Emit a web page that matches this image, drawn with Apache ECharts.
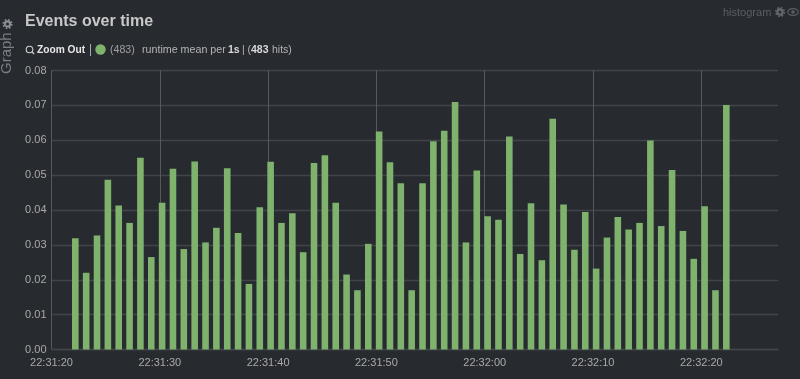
<!DOCTYPE html>
<html><head><meta charset="utf-8">
<style>html,body{margin:0;padding:0;background:#272a2f}#c{width:800px;height:379px}</style>
<script src="https://cdn.jsdelivr.net/npm/echarts@6/dist/echarts.min.js"></script>
</head><body><div id="c"></div>
<script>
var xTickLabels = ['22:31:20','22:31:30','22:31:40','22:31:50','22:32:00','22:32:10','22:32:20'];
var firstBarSeconds = 2.2;
var runtimeMean = [
 .0319,.0220,.0327,.0487,.0413,.0363,.0550,.0265,.0421,.0518,.0288,.0539,.0307,.0349,.0520,.0334,.0188,.0408,.0538,.0363,.0391,.0279,
 .0535,.0557,.0421,.0215,.0170,.0303,.0625,.0537,.0477,.0170,.0477,.0597,.0627,.0710,.0307,.0513,.0382,.0372,.0611,.0274,.0419,.0256,
 .0662,.0416,.0286,.0394,.0232,.0321,.0380,.0344,.0363,.0599,.0354,.0515,.0340,.0260,.0411,.0170,.0701];
var barData = runtimeMean.map(function(v,i){return [firstBarSeconds+i*1.0018,v];});
var FONT='"Liberation Sans",Arial,sans-serif';
var chart=echarts.init(document.getElementById('c'),null,{renderer:'canvas'});
function txt(x,y,t,size,color,weight){
  return {type:'text',x:x,y:y,silent:true,style:{text:t,fontFamily:FONT,fontSize:size,fill:color,fontWeight:weight||'normal',textVerticalAlign:'middle'}};
}
function gear(cx,cy,color){
  return [
   {type:'circle',silent:true,shape:{cx:cx,cy:cy,r:2.6},style:{fill:'none',stroke:color,lineWidth:2.2}},
   {type:'circle',silent:true,shape:{cx:cx,cy:cy,r:4.3},style:{fill:'none',stroke:color,lineWidth:1.6,lineDash:[1.7,1.68]}}
  ];
}
var graph=[
  txt(25,22,'Events over time',16,'#c8c8c8','bold'),
  {type:'text',x:7,y:74,rotation:Math.PI/2,silent:true,style:{text:'Graph',fontFamily:FONT,fontSize:15,fill:'#7c7e82',textVerticalAlign:'middle',textAlign:'left'}},
  {type:'circle',silent:true,shape:{cx:29.5,cy:49.5,r:3.3},style:{fill:'none',stroke:'#d0d0d0',lineWidth:1.1}},
  {type:'line',silent:true,shape:{x1:32,y1:52,x2:34.2,y2:54},style:{stroke:'#d0d0d0',lineWidth:1.3}},
  txt(37,50,'Zoom Out',10.2,'#e6e6e6','bold'),
  {type:'line',silent:true,shape:{x1:90.5,y1:44,x2:90.5,y2:56},style:{stroke:'#aaaaaa',lineWidth:1}},
  {type:'circle',silent:true,shape:{cx:100.5,cy:49.5,r:5.2},style:{fill:'#7eb26d'}},
  txt(110,50,'(483)',10.6,'#a0a0a0'),
  txt(142,50,'runtime mean per',10.7,'#b4b4b4'),
  txt(228,50,'1s',10.5,'#d8d8d8','bold'),
  txt(242,50,'|',10.5,'#b4b4b4'),
  txt(247.5,50,'(',10.5,'#b4b4b4'),
  txt(251,50,'483',10.5,'#d8d8d8','bold'),
  txt(272,50,'hits)',10.5,'#b4b4b4'),
  txt(723,12.5,'histogram',11,'#5c5f63'),
  {type:'ellipse',silent:true,shape:{cx:793,cy:12,rx:5.2,ry:3.4},style:{fill:'none',stroke:'#5c5f63',lineWidth:1.2}},
  {type:'circle',silent:true,shape:{cx:793,cy:12,r:1.8},style:{fill:'#5c5f63'}}
].concat(gear(7.5,24,'#8a8c90'),gear(780,12,'#65686c'));
chart.setOption({
 animation:false,
 backgroundColor:'#272a2f',
 grid:{left:51.5,right:22,top:70.5,bottom:29.5,containLabel:false},
 xAxis:{type:'value',min:0,max:67.08,interval:10,
  axisLine:{show:true,lineStyle:{color:'#414448',width:1.3}},axisTick:{show:false},
  splitLine:{show:true,showMaxLine:false,lineStyle:{color:'#55585c',width:1}},
  axisLabel:{color:'#a9a9a9',fontFamily:FONT,fontSize:11,margin:8,
   showMaxLabel:false,formatter:function(v){var l=xTickLabels[v/10];return l===undefined?'':l;}}},
 yAxis:{type:'value',min:0,max:0.08,interval:0.01,
  axisLine:{show:true,lineStyle:{color:'#55585c',width:1}},axisTick:{show:false},
  splitLine:{show:true,lineStyle:{color:'#414448',width:1.3}},
  axisLabel:{color:'#a9a9a9',fontFamily:FONT,fontSize:11,margin:5,formatter:function(v){return v.toFixed(2);}}},
 series:[{type:'bar',data:barData,barWidth:6.6,itemStyle:{color:'#7eb26d'},silent:true}],
 graphic:graph
});
</script></body></html>
